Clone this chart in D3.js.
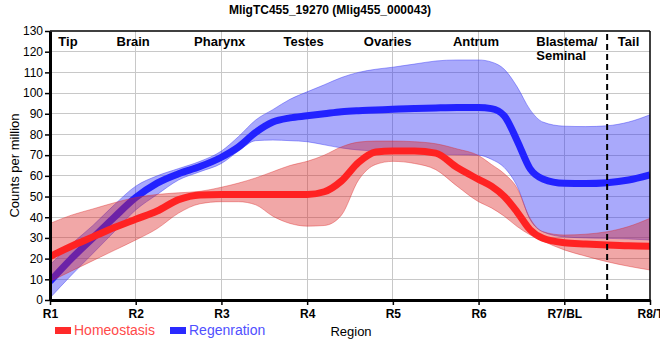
<!DOCTYPE html>
<html>
<head>
<meta charset="utf-8">
<script src="https://cdn.jsdelivr.net/npm/d3@7"></script>
<style>
  html, body { margin: 0; padding: 0; background: #fff; }
  svg { display: block; font-family: Arial, "Liberation Sans", sans-serif; }
</style>
</head>
<body>
<svg id="chart" width="660" height="360"></svg>
<script>
// ---------------- DATA ----------------
const title = "MligTC455_19270 (Mlig455_000043)";
const xTickLabels = ["R1", "R2", "R3", "R4", "R5", "R6", "R7/BL", "R8/T"];
const yTicks = [0, 10, 20, 30, 40, 50, 60, 70, 80, 90, 100, 110, 120, 130];
const regionNames = ["Tip", "Brain", "Pharynx", "Testes", "Ovaries", "Antrum", "Blastema/\nSeminal", "Tail"];
const regionCentres = [0.21, 0.97, 1.98, 2.96, 3.94, 4.97, 6.0, 6.75];
const tailBoundary = 6.5;
const seriesNames = ["Homeostasis", "Regenration"];

// sample positions along the body axis (0 = R1 ... 7 = R8/T)
const pos = [0, 0.25, 0.5, 0.75, 1, 1.25, 1.5, 1.75, 2, 2.2, 2.4, 2.6, 2.8, 3, 3.2, 3.4, 3.6, 3.8,
             4, 4.25, 4.5, 4.75, 5, 5.15, 5.3, 5.45, 5.6, 5.75, 6, 6.25, 6.5, 6.75, 7];

const homMean  = [21, 26, 30.5, 35, 39, 43, 48.5, 50.8, 51, 51, 51, 51, 51, 51, 52.3, 57.5, 66.5, 71.5,
                  72, 72, 71, 64, 58.3, 55, 50, 42.5, 34, 29.8, 27.7, 27.1, 26.6, 26.2, 26];
const homUpper = [37, 41, 44, 47, 49.5, 51, 51.8, 52.5, 54.5, 56.5, 59, 62, 65, 67, 70, 74, 76.3, 76.8,
                  76.8, 76.5, 75.5, 73, 69.8, 65.5, 61, 54, 39.5, 33, 31.4, 31.8, 33, 35.5, 39.5];
const homLower = [9, 14, 19, 24, 29, 34.5, 42, 46.5, 47.5, 47.5, 46, 40.5, 37, 35.7, 36, 41, 58, 65.5,
                  67, 66, 63, 55, 47.5, 44.5, 40.5, 35.5, 31.5, 28.5, 24.2, 21.2, 18.5, 16.3, 14.5];

const regMean  = [9, 20, 30, 40, 49.5, 56.5, 61, 64.5, 69, 74, 81, 86, 88, 89, 90, 91, 91.5, 91.8,
                  92.2, 92.5, 92.8, 93, 93, 92.5, 89, 77, 63.5, 58.5, 56.4, 56.3, 56.7, 58, 60.5];
const regUpper = [17, 27, 36, 46, 55, 60, 63.5, 67, 72, 79, 87, 92, 97, 100.6, 104, 107.5, 110, 111.5,
                  112.5, 114, 115.5, 116, 116, 115, 111.5, 103, 92, 86, 84, 83.8, 84.2, 86, 89.5];
const regLower = [1, 12, 22.5, 33, 43.5, 51, 58, 62, 66, 72, 77, 77.3, 77, 76.5, 75, 73.5, 72.5, 72,
                  71.5, 71, 70.5, 70.2, 70, 68, 64, 55, 39, 33, 30.5, 30, 29.8, 29.5, 29];

// ---------------- CHART ----------------
const svg = d3.select("#chart");
const W = 660, H = 360;
const m = { left: 50, right: 10, top: 31, bottom: 60 };
const x = d3.scaleLinear().domain([0, 7]).range([50, 650]);
const y = d3.scaleLinear().domain([0, 130]).range([300, 31]);

// clip
svg.append("defs").append("clipPath").attr("id", "plotclip")
  .append("rect").attr("x", x(0)).attr("y", y(130)).attr("width", x(7) - x(0)).attr("height", y(0) - y(130));

// grid
const grid = svg.append("g");
grid.selectAll("line.h").data(yTicks.filter(t => t > 0 && t < 130)).join("line")
  .attr("x1", x(0)).attr("x2", x(7)).attr("y1", d => y(d)).attr("y2", d => y(d))
  .attr("stroke", "#c8c8c8").attr("stroke-width", 1).attr("shape-rendering", "crispEdges");
grid.selectAll("line.v").data(d3.range(1, 7)).join("line")
  .attr("x1", d => x(d)).attr("x2", d => x(d)).attr("y1", y(0)).attr("y2", y(130))
  .attr("stroke", "#c8c8c8").attr("stroke-width", 1).attr("shape-rendering", "crispEdges");

// series
const plot = svg.append("g").attr("clip-path", "url(#plotclip)");
const curve = d3.curveMonotoneX;
function band(upper, lower) {
  return d3.area().curve(curve).x((d, i) => x(pos[i])).y0((d, i) => y(lower[i])).y1((d, i) => y(upper[i]))(pos);
}
function line(vals) {
  return d3.line().curve(curve).x((d, i) => x(pos[i])).y((d, i) => y(vals[i]))(pos);
}
// regeneration band + line
plot.append("path").attr("d", band(regUpper, regLower))
  .attr("fill", "rgb(40,40,245)").attr("fill-opacity", 0.4)
  .attr("stroke", "rgb(60,60,245)").attr("stroke-opacity", 0.45).attr("stroke-width", 1);
plot.append("path").attr("d", line(regMean))
  .attr("fill", "none").attr("stroke", "#2222ff").attr("stroke-width", 7);
// homeostasis band + line
plot.append("path").attr("d", band(homUpper, homLower))
  .attr("fill", "rgb(220,35,35)").attr("fill-opacity", 0.4)
  .attr("stroke", "rgb(220,40,40)").attr("stroke-opacity", 0.4).attr("stroke-width", 1);
plot.append("path").attr("d", line(homMean))
  .attr("fill", "none").attr("stroke", "#ff2222").attr("stroke-width", 7);

// frame (top / right thin)
svg.append("line").attr("x1", x(0)).attr("x2", x(7)).attr("y1", y(130)).attr("y2", y(130))
  .attr("stroke", "#000").attr("stroke-width", 1.5);
svg.append("line").attr("x1", x(7)).attr("x2", x(7)).attr("y1", y(130)).attr("y2", y(0))
  .attr("stroke", "#000").attr("stroke-width", 1.5);

// tail boundary
svg.append("line").attr("x1", x(tailBoundary)).attr("x2", x(tailBoundary)).attr("y1", y(0)).attr("y2", y(130))
  .attr("stroke", "#000").attr("stroke-width", 2).attr("stroke-dasharray", "6,4");

// axes
const yAxis = svg.append("g").attr("transform", `translate(${x(0)},0)`)
  .call(d3.axisLeft(y).tickValues(yTicks).tickSize(5).tickSizeOuter(0));
const xAxis = svg.append("g").attr("transform", `translate(0,${y(0)})`)
  .call(d3.axisBottom(x).tickValues(d3.range(0, 8)).tickFormat(i => xTickLabels[i]).tickSize(5).tickSizeOuter(0));
[yAxis, xAxis].forEach(g => {
  g.select(".domain").attr("stroke", "#000").attr("stroke-width", 3);
  g.selectAll(".tick line").attr("stroke", "#000").attr("stroke-width", 1.5);
  g.selectAll(".tick text").attr("fill", "#000").attr("font-size", 12)
    .attr("font-family", "Arial, 'Liberation Sans', sans-serif");
});
yAxis.selectAll(".tick text").attr("x", -7);
xAxis.selectAll(".tick text").attr("y", 9).attr("font-weight", "bold");

// region labels
const rl = svg.append("g");
regionNames.forEach((name, i) => {
  const lines = name.split("\n");
  const t = rl.append("text").attr("font-size", 13).attr("font-weight", "bold").attr("fill", "#000")
    .attr("text-anchor", "middle").attr("x", x(regionCentres[i])).attr("y", 46);
  lines.forEach((ln, k) => {
    t.append("tspan").attr("x", lines.length > 1 ? x(regionCentres[i]) - 28 : x(regionCentres[i]))
      .attr("text-anchor", lines.length > 1 ? "start" : "middle")
      .attr("dy", k === 0 ? 0 : 14).text(ln);
  });
});

// title
svg.append("text").attr("x", 330).attr("y", 14).attr("text-anchor", "middle")
  .attr("font-size", 12).attr("font-weight", "bold").text(title);

// axis titles
svg.append("text").attr("transform", `translate(19,${(y(0) + y(130)) / 2}) rotate(-90)`)
  .attr("text-anchor", "middle").attr("font-size", 13).text("Counts per million");
svg.append("text").attr("x", 351).attr("y", 336).attr("text-anchor", "middle")
  .attr("font-size", 13).text("Region");

// legend
const legColors = ["#ff2a2a", "#2a2aff"];
const legText = ["#ff4a4a", "#5050ff"];
const legX = [55, 170];
seriesNames.forEach((s, i) => {
  svg.append("rect").attr("x", legX[i]).attr("y", 327).attr("width", 16).attr("height", 7).attr("fill", legColors[i]);
  svg.append("text").attr("x", legX[i] + 19).attr("y", 335).attr("font-size", 14)
    .attr("fill", legText[i]).text(s);
});
</script>
</body>
</html>
